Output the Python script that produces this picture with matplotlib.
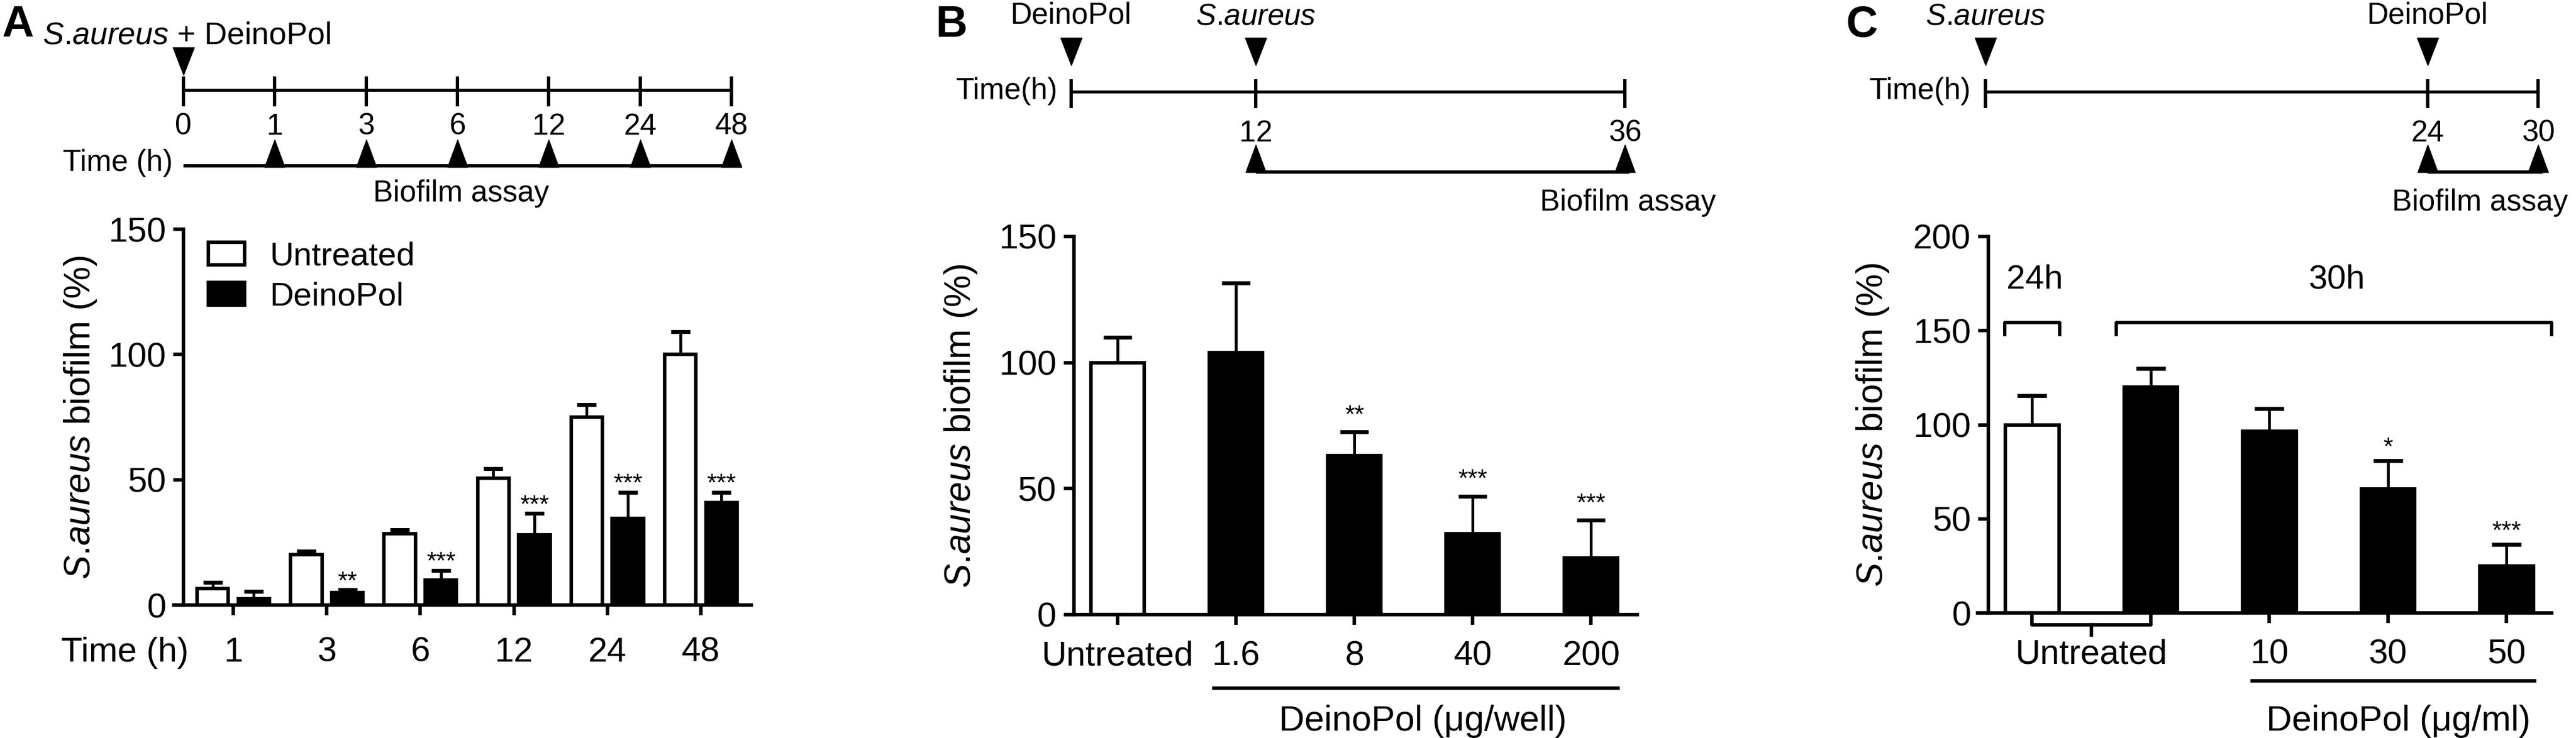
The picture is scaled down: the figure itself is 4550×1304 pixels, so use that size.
import matplotlib
matplotlib.use("Agg")
import matplotlib.pyplot as plt
import matplotlib.transforms as mtransforms
from matplotlib.path import Path
import numpy as np

plt.rcParams['font.family'] = ['Liberation Sans', 'DejaVu Sans']
plt.rcParams['mathtext.fontset'] = 'custom'
plt.rcParams['mathtext.rm'] = 'Liberation Sans'
plt.rcParams['mathtext.it'] = 'Liberation Sans:italic'
plt.rcParams['mathtext.bf'] = 'Liberation Sans:bold'

W, H, DPI = 4550, 1304, 100

# ---- panel A data ----
a_timeline = [0, 1, 3, 6, 12, 24, 48]
a_hours = ['1', '3', '6', '12', '24', '48']
a_untreated = [6.5, 20, 28.5, 50.5, 75, 100]
a_untreated_err = [2.5, 1.5, 1.5, 4, 5, 9]
a_deinopol = [2.5, 5, 10, 28, 34.5, 41]
a_deinopol_err = [3, 1, 3.8, 8.5, 10.5, 4]
a_stars = ['', '**', '***', '***', '***', '***']

# ---- panel B data ----
b_timeline = [0, 12, 36]
b_labels = ['Untreated', '1.6', '8', '40', '200']
b_values = [100, 104, 63, 32, 22.5]
b_err = [10, 27.5, 9.5, 15, 15]
b_stars = ['', '', '**', '***', '***']

# ---- panel C data ----
c_timeline = [0, 24, 30]
c_labels = ['Untreated', '10', '30', '50']
c_values = [100, 120, 96.5, 66, 25]
c_err = [15.5, 10, 12, 15, 11.5]
c_stars = ['', '', '', '*', '***']

LW = 4.5
TICK_FS = 44
YLAB_FS = 46
TL_FS = 38
# italic species name; the dot is kept outside mathtext so no extra space is added
SAUREUS = r'$\it{S}$.$\it{aureus}$'

fig = plt.figure(figsize=(W / DPI, H / DPI), dpi=DPI)
PX = mtransforms.Affine2D().scale(1 / W, -1 / H).translate(0, 1) + fig.transFigure

TRI_DOWN = Path([(-19, 24.5), (19, 24.5), (0, -24.5), (-19, 24.5)], closed=True)
TRI_UP = Path([(-18, -24.5), (18, -24.5), (0, 24.5), (-18, -24.5)], closed=True)


def add_px_axes(x0, y0, x1, y1):
    return fig.add_axes([x0 / W, 1 - y1 / H, (x1 - x0) / W, (y1 - y0) / H])


def timeline_axes(x0, x1, t0, t1, px0, px1):
    ax = add_px_axes(x0, 0, x1, 400)
    k = (px1 - px0) / (t1 - t0)
    ax.set_xlim(t0 - (px0 - x0) / k, t0 + (x1 - px0) / k)
    ax.set_ylim(400, 0)
    ax.axis('off')
    return ax, k


def bar_axes(box, spine_x, xlim, ymax, ystep):
    ax = add_px_axes(*box)
    for side in ['top', 'right']:
        ax.spines[side].set_visible(False)
    for side in ['left', 'bottom']:
        ax.spines[side].set_linewidth(LW)
    ax.spines['left'].set_position(('data', spine_x))
    ax.set_xlim(*xlim)
    ax.set_ylim(0, ymax)
    ax.set_yticks(np.arange(0, ymax + 1, ystep))
    ax.tick_params(axis='y', direction='out', length=13, width=LW, pad=9, labelsize=TICK_FS)
    ax.tick_params(axis='x', direction='out', length=13, width=LW, pad=20, labelsize=TICK_FS)
    ax.patch.set_visible(False)
    return ax


def up_errorbar(ax, x, y, err, capsize):
    eb = ax.errorbar(x, y, yerr=[np.zeros(len(y)), err], fmt='none', ecolor='k',
                     elinewidth=3.6, capsize=capsize, capthick=5, zorder=3)
    eb[1][0].set_visible(False)


def stars(ax, x, y, err, marks, offset):
    for xi, yi, ei, m in zip(x, y, err, marks):
        if m:
            ax.text(xi, yi + ei + offset, m, ha='center', va='baseline', fontsize=32)


def ylabel(ax, xpos):
    ax.text(xpos, 0.5, SAUREUS + ' biofilm (%)', transform=ax.transAxes,
            rotation=90, ha='center', va='center', fontsize=YLAB_FS)


# =================== panel A ===================
fig.text(3, 65, 'A', transform=PX, fontsize=56, fontweight='bold', va='baseline')
fig.text(75, 77, SAUREUS + ' + DeinoPol', transform=PX, fontsize=40, va='baseline')

ta, ka = timeline_axes(0, 1500, 0, 6, 324, 1292)
idx = np.arange(len(a_timeline))
ta.plot([idx[0], idx[-1]], [159, 159], color='k', lw=3.8, solid_capstyle='butt')
ta.vlines(idx, 135, 188, color='k', lw=4.2)
for i, t in zip(idx, a_timeline):
    ta.text(i, 238, str(t), ha='center', va='baseline', fontsize=TL_FS)
ta.plot([idx[0]], [107.5], ls='none', marker=TRI_DOWN, ms=35, color='k')
ta.plot([idx[0], idx[-1] + 18 / ka], [293, 293], color='k', lw=4.2, solid_capstyle='butt')
ta.plot(idx[1:], [271] * (len(idx) - 1), ls='none', marker=TRI_UP, ms=35, color='k')
ta.text(-19 / ka, 302, 'Time (h)', ha='right', va='baseline', fontsize=TL_FS)
ta.text(3.04, 356, 'Biofilm assay', ha='center', va='baseline', fontsize=TL_FS)

axA = bar_axes((307, 405, 1327, 1069), 0.467, (0.364, 6.539), 150, 50)
xa = np.arange(1, len(a_hours) + 1)
bw = 0.335
axA.bar(xa - 0.22, a_untreated, bw, color='white', edgecolor='k', lw=LW, label='Untreated')
axA.bar(xa + 0.22, a_deinopol, bw, color='k', edgecolor='k', lw=LW, label='DeinoPol')
up_errorbar(axA, xa - 0.22, a_untreated, a_untreated_err, 12)
up_errorbar(axA, xa + 0.22, a_deinopol, a_deinopol_err, 12)
stars(axA, xa + 0.22, a_deinopol, a_deinopol_err, a_stars, 0.5)
axA.set_xticks(xa)
axA.set_xticklabels(a_hours)
axA.tick_params(axis='x', pad=27)
off = mtransforms.ScaledTranslation(0, -(13 + 27) / 72, fig.dpi_scale_trans)
axA.text(0.52, 0, 'Time (h)', transform=axA.get_xaxis_transform() + off,
         ha='right', va='top', fontsize=TICK_FS)
ylabel(axA, -0.162)
axA.legend(loc='upper left', bbox_to_anchor=(0.06, 0.968), frameon=False, fontsize=42,
           handlelength=1.1, handleheight=0.68, handletextpad=0.75, labelspacing=0.3,
           borderpad=0, borderaxespad=0)

# =================== panel B ===================
fig.text(1653, 65, 'B', transform=PX, fontsize=56, fontweight='bold', va='baseline')
tb, kb = timeline_axes(1500, 3100, 0, 36, 1892, 2870)
tb.plot([b_timeline[0], b_timeline[-1]], [162, 162], color='k', lw=3.8, solid_capstyle='butt')
tb.vlines(b_timeline, 140, 191, color='k', lw=4.2)
for t in b_timeline[1:]:
    tb.text(t, 250, str(t), ha='center', va='baseline', fontsize=TL_FS)
tb.plot(b_timeline[:2], [91, 91], ls='none', marker=TRI_DOWN, ms=35, color='k')
tb.text(b_timeline[0], 42, 'DeinoPol', ha='center', va='baseline', fontsize=TL_FS)
tb.text(b_timeline[1], 44, SAUREUS, ha='center', va='baseline', fontsize=TL_FS)
tb.plot([b_timeline[1], b_timeline[2] + 8 / kb], [304, 304], color='k', lw=4.2,
        solid_capstyle='butt')
tb.plot(b_timeline[1:], [280, 280], ls='none', marker=TRI_UP, ms=35, color='k')
tb.text(-24 / kb, 175, 'Time(h)', ha='right', va='baseline', fontsize=TL_FS)
tb.text((2720 - 1892) / kb, 372, 'Biofilm assay', ha='left', va='baseline', fontsize=TL_FS)

axB = bar_axes((1883, 418, 2892, 1086), -0.37, (-0.435, 4.39), 150, 50)
xb = np.arange(len(b_values))
bw = 0.45
colors_b = ['white'] + ['k'] * (len(b_values) - 1)
axB.bar(xb, b_values, bw, color=colors_b, edgecolor='k', lw=LW)
up_errorbar(axB, xb, b_values, b_err, 18)
stars(axB, xb, b_values, b_err, b_stars, 3.8)
axB.set_xticks(xb)
axB.set_xticklabels(b_labels)
axB.plot([0.8, 4.24], [-29.2, -29.2], color='k', lw=LW, clip_on=False, solid_capstyle='butt')
axB.text(2.58, -42.4, 'DeinoPol (μg/well)', ha='center', va='center', fontsize=45)
ylabel(axB, -0.184)

# =================== panel C ===================
fig.text(3261, 65, 'C', transform=PX, fontsize=56, fontweight='bold', va='baseline')
tc, kc = timeline_axes(3100, 4550, 0, 30, 3507, 4483)
tc.plot([c_timeline[0], c_timeline[-1]], [162, 162], color='k', lw=3.8, solid_capstyle='butt')
tc.vlines(c_timeline, 140, 191, color='k', lw=4.2)
for t in c_timeline[1:]:
    tc.text(t, 250, str(t), ha='center', va='baseline', fontsize=TL_FS)
tc.plot(c_timeline[:2], [91, 91], ls='none', marker=TRI_DOWN, ms=35, color='k')
tc.text(c_timeline[0], 44, SAUREUS, ha='center', va='baseline', fontsize=TL_FS)
tc.text(c_timeline[1], 42, 'DeinoPol', ha='center', va='baseline', fontsize=TL_FS)
tc.plot([c_timeline[1], c_timeline[2] + 8 / kc], [304, 304], color='k', lw=4.2,
        solid_capstyle='butt')
tc.plot(c_timeline[1:], [280, 280], ls='none', marker=TRI_UP, ms=35, color='k')
tc.text(-26 / kc, 175, 'Time(h)', ha='right', va='baseline', fontsize=TL_FS)
tc.text((4380 - 3507) / kc, 372, 'Biofilm assay', ha='center', va='baseline', fontsize=TL_FS)

axC = bar_axes((3493, 418, 4507, 1083), -0.37, (-0.46, 4.38), 200, 50)
xc = np.arange(len(c_values))
colors_c = ['white'] + ['k'] * (len(c_values) - 1)
axC.bar(xc, c_values, bw, color=colors_c, edgecolor='k', lw=LW)
up_errorbar(axC, xc, c_values, c_err, 19)
stars(axC, xc, c_values, c_err, c_stars, 3.0)
c_ticks = [(xc[0] + xc[1]) / 2] + list(xc[2:])
axC.set_xticks(c_ticks)
axC.set_xticklabels(c_labels)
axC.xaxis.get_major_ticks()[0].tick1line.set_visible(False)
# bracket joining the two untreated bars (24h and 30h)
axC.plot([xc[0], xc[0], xc[1], xc[1]], [0, -6.3, -6.3, 0], color='k', lw=LW, clip_on=False)
axC.plot([c_ticks[0], c_ticks[0]], [-6.3, -11.8], color='k', lw=LW, clip_on=False)
axC.plot([1.84, 4.25], [-36.1, -36.1], color='k', lw=LW, clip_on=False, solid_capstyle='butt')
axC.text(3.09, -57.7, 'DeinoPol (μg/ml)', ha='center', va='center', fontsize=45)
axC.plot([-0.23, -0.23, 0.23, 0.23], [148, 154.4, 154.4, 148], color='k', lw=4.2)
axC.plot([0.71, 0.71, 4.38, 4.38], [148, 154.4, 154.4, 148], color='k', lw=4.2, clip_on=False)
axC.text(0.02, 177, '24h', ha='center', va='center', fontsize=43)
axC.text(2.57, 177, '30h', ha='center', va='center', fontsize=43)
ylabel(axC, -0.182)

fig.savefig('out.png', dpi=DPI, facecolor='white')
